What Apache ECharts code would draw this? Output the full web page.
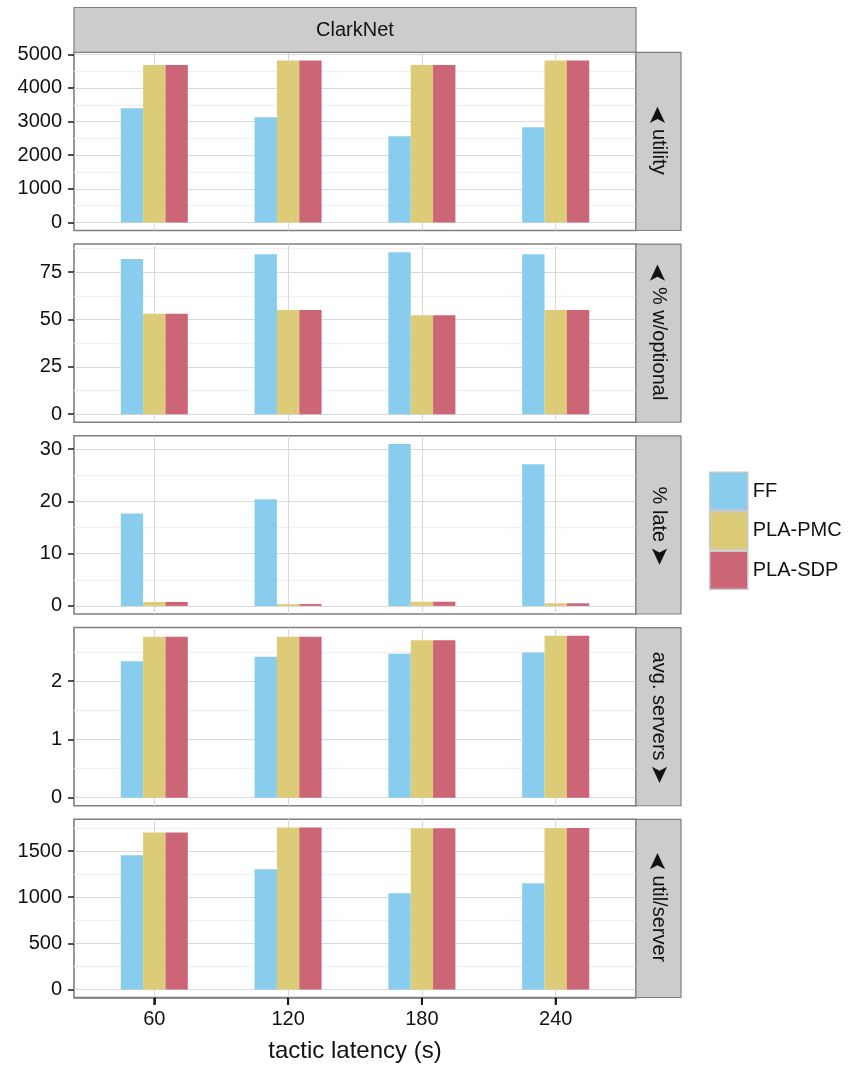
<!DOCTYPE html>
<html><head><meta charset="utf-8">
<script src="https://cdn.jsdelivr.net/npm/echarts@6/dist/echarts.min.js"></script>
<style>html,body{margin:0;padding:0;background:#fff}#c{width:848px;height:1068px}</style>
</head><body><div id="c"></div>
<script>
// ---------- data ----------
const categories = ['60', '120', '180', '240'];
const seriesNames = ['FF', 'PLA-PMC', 'PLA-SDP'];
const facetTitle = 'ClarkNet';
const xTitle = 'tactic latency (s)';
const panelLabels = ['utility', '% w/optional', '% late', 'avg. servers', 'util/server'];
const panelArrows = ['up', 'up', 'down', 'down', 'up'];

const utilityFF  = [3400, 3130, 2560, 2830];
const utilityPMC = [4680, 4820, 4680, 4820];
const utilitySDP = [4680, 4820, 4680, 4820];

const optionalFF  = [82, 84.5, 85.6, 84.5];
const optionalPMC = [53, 55, 52.3, 55];
const optionalSDP = [53, 55, 52.3, 55];

const lateFF  = [17.7, 20.4, 31.0, 27.1];
const latePMC = [0.75, 0.35, 0.8, 0.5];
const lateSDP = [0.75, 0.35, 0.8, 0.5];

const serversFF  = [2.34, 2.42, 2.47, 2.49];
const serversPMC = [2.76, 2.76, 2.70, 2.78];
const serversSDP = [2.76, 2.76, 2.70, 2.78];

const utilPerServerFF  = [1453, 1302, 1042, 1150];
const utilPerServerPMC = [1702, 1756, 1748, 1750];
const utilPerServerSDP = [1702, 1756, 1748, 1750];

const utilityTicks = [0, 1000, 2000, 3000, 4000, 5000];
const optionalTicks = [0, 25, 50, 75];
const lateTicks = [0, 10, 20, 30];
const serversTicks = [0, 1, 2];
const utilPerServerTicks = [0, 500, 1000, 1500];

// ---------- assembly ----------
const panelData = [
  [utilityFF, utilityPMC, utilitySDP],
  [optionalFF, optionalPMC, optionalSDP],
  [lateFF, latePMC, lateSDP],
  [serversFF, serversPMC, serversSDP],
  [utilPerServerFF, utilPerServerPMC, utilPerServerSDP]
];
const panelTicks = [utilityTicks, optionalTicks, lateTicks, serversTicks, utilPerServerTicks];
const colors = ['#88CCEE', '#DDCC77', '#CC6677'];

const FONT = '"Liberation Sans", Arial, Helvetica, sans-serif';
const TXT = '#111111';
const PANEL_LEFT = 74, PANEL_W = 562, PANEL_TOP0 = 52.3, PANEL_H = 178.2, PANEL_STEP = 191.75;
const STRIP_W = 45;
const X_MIN = -0.6, X_MAX = categories.length - 0.4;
const catIdx = categories.map((c, i) => i);
const lastPanel = panelData.length - 1;

const grids = [], xAxes = [], yAxes = [], series = [], graphics = [];

const mctx = document.createElement('canvas').getContext('2d');
function textW(t, size, fam) { mctx.font = size + 'px ' + fam; return mctx.measureText(t).width; }

panelData.forEach((group, p) => {
  const top = PANEL_TOP0 + p * PANEL_STEP;
  const isBottom = p === lastPanel;
  const maxV = Math.max(...group.flat());
  const lo = -0.05 * maxV, hi = 1.05 * maxV;
  const ticks = panelTicks[p];
  const step = ticks[1] - ticks[0];
  const minor = [];
  ticks.forEach(t => { if (t + step / 2 <= hi) minor.push(t + step / 2); });

  grids.push({ left: PANEL_LEFT, top: top, width: PANEL_W, height: PANEL_H,
    show: true, borderColor: '#7f7f7f', borderWidth: 1.6, backgroundColor: '#fff' });

  xAxes.push({
    type: 'value', gridIndex: p, min: X_MIN, max: X_MAX, position: 'bottom',
    axisLine: { show: isBottom, onZero: false, lineStyle: { color: '#7f7f7f', width: 1.6 } },
    axisTick: { show: isBottom, length: 7, inside: false, customValues: catIdx,
      lineStyle: { color: '#222', width: 2 } },
    axisLabel: { show: isBottom, customValues: catIdx, margin: 12,
      formatter: v => categories[Math.round(v)], fontSize: 20, fontFamily: FONT, color: TXT },
    splitLine: { show: true, lineStyle: { color: '#d9d9d9', width: 1.1 } },
    name: isBottom ? xTitle : '', nameLocation: 'middle', nameGap: 42,
    nameTextStyle: { fontSize: 24, fontFamily: FONT, color: TXT }
  });

  yAxes.push({
    type: 'value', gridIndex: p, min: lo, max: hi, position: 'left',
    axisLine: { show: false, onZero: false },
    axisTick: { show: true, length: 6, customValues: ticks, lineStyle: { color: '#222', width: 1.6 } },
    axisLabel: { customValues: ticks, formatter: v => String(v), margin: 12,
      fontSize: 20, fontFamily: FONT, color: TXT },
    splitLine: { show: true, lineStyle: { color: '#d9d9d9', width: 1.1 } }
  });
  yAxes.push({
    type: 'value', gridIndex: p, min: lo, max: hi, position: 'left',
    axisLine: { show: false, onZero: false },
    axisTick: { show: false, customValues: minor },
    axisLabel: { show: false, customValues: minor },
    splitLine: { show: true, lineStyle: { color: '#f1f1f1', width: 1.4 } }
  });

  group.forEach((arr, s) => {
    series.push({
      type: 'bar', name: seriesNames[s], xAxisIndex: p, yAxisIndex: 2 * p,
      data: arr.map((v, j) => [catIdx[j], v]),
      barWidth: '16.7%', barGap: '0%',
      itemStyle: { color: colors[s] }
    });
  });

  // right strip
  graphics.push({ type: 'rect', shape: { x: PANEL_LEFT + PANEL_W, y: top, width: STRIP_W, height: PANEL_H },
    style: { fill: '#cccccc', stroke: '#7f7f7f', lineWidth: 1.2 }, z: 10 });
  const label = panelLabels[p];
  const lw = textW(label, 20, FONT);
  const aw = 15, gap = 6;
  const total = lw + aw + gap;
  const up = panelArrows[p] === 'up';
  const children = [];
  const arrowStyle = { text: '\u27A4', fontSize: 24, fontFamily: 'DejaVu Sans', fill: TXT, align: 'center', verticalAlign: 'middle' };
  const labelStyle = { text: label, fontSize: 20, fontFamily: FONT, fill: TXT, align: 'left', verticalAlign: 'middle' };
  if (up) {
    children.push({ type: 'text', x: -total / 2 + aw / 2, y: 0, rotation: Math.PI, z: 20, style: arrowStyle });
    children.push({ type: 'text', x: -total / 2 + aw + gap, y: 0, z: 20, style: labelStyle });
  } else {
    children.push({ type: 'text', x: -total / 2, y: 0, z: 20, style: labelStyle });
    children.push({ type: 'text', x: total / 2 - aw / 2, y: 0, z: 20, style: arrowStyle });
  }
  graphics.push({ type: 'group', x: PANEL_LEFT + PANEL_W + STRIP_W / 2, y: top + PANEL_H / 2,
    rotation: -Math.PI / 2, z: 20, children: children });
});

// top strip
graphics.push({ type: 'rect', shape: { x: PANEL_LEFT, y: 7.5, width: PANEL_W, height: PANEL_TOP0 - 7.5 },
  style: { fill: '#cccccc', stroke: '#7f7f7f', lineWidth: 1.2 }, z: 10 });
graphics.push({ type: 'text', x: PANEL_LEFT + PANEL_W / 2, y: (7.5 + PANEL_TOP0) / 2 + 0.5, z: 20,
  style: { text: facetTitle, fontSize: 20, fontFamily: FONT, fill: TXT, align: 'center', verticalAlign: 'middle' } });

// bottom x-axis tick marks (same linear mapping as the bottom x axis)
const bottomY = PANEL_TOP0 + lastPanel * PANEL_STEP + PANEL_H;
catIdx.forEach(i => {
  const px = PANEL_LEFT + (i - X_MIN) / (X_MAX - X_MIN) * PANEL_W;
  graphics.push({ type: 'rect', z: 30, shape: { x: px - 1, y: bottomY + 0.5, width: 2, height: 7 },
    style: { fill: '#1a1a1a' } });
});

const chart = echarts.init(document.getElementById('c'), null, { renderer: 'canvas' });
chart.setOption({
  animation: false,
  backgroundColor: '#fff',
  grid: grids,
  xAxis: xAxes,
  yAxis: yAxes,
  series: series,
  legend: {
    data: seriesNames, orient: 'vertical', left: 709, top: 471.5,
    itemWidth: 38, itemHeight: 38, itemGap: 0, icon: 'rect', padding: 0,
    itemStyle: { borderColor: '#c8c8c8', borderWidth: 1.5 },
    textStyle: { fontSize: 20, fontFamily: FONT, color: TXT }
  },
  graphic: graphics
});
</script></body></html>
